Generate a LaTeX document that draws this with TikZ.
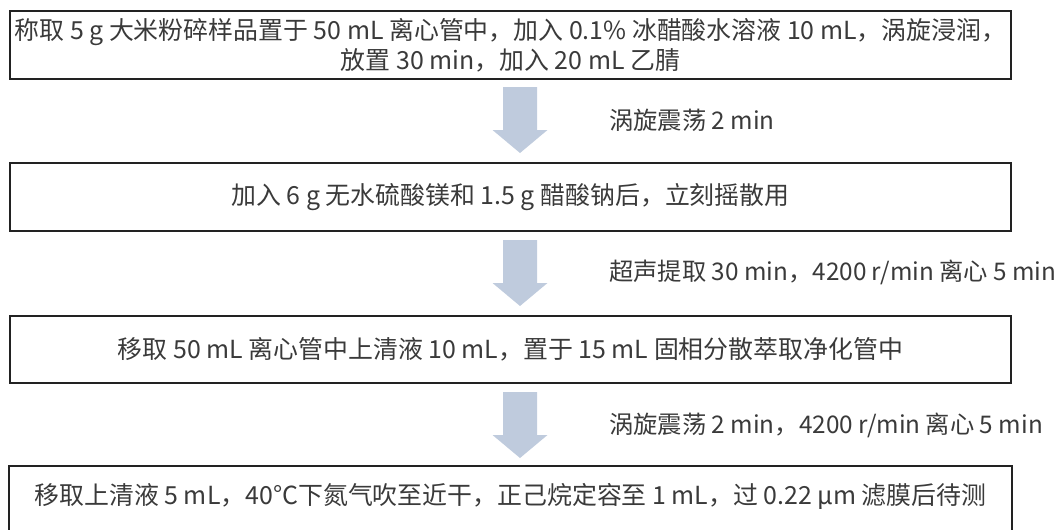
\documentclass[tikz,border=0pt]{standalone}
\usepackage{fontspec}
\setmainfont{Noto Sans CJK SC}
\definecolor{txt}{HTML}{3A3A3A}
\definecolor{arr}{HTML}{BFCBDD}
\definecolor{edge}{HTML}{222222}
\begin{document}
\begin{tikzpicture}[x=1pt,y=-1pt,
  box/.style={draw=edge,line width=2pt,minimum width=1001pt,anchor=north west,inner sep=0pt,text=txt,font=\fontsize{24.9pt}{30pt}\selectfont,align=center},
  lab/.style={anchor=west,inner sep=0pt,text=txt,font=\fontsize{24.3pt}{28pt}\selectfont},
  blockarrow/.style={fill=arr,draw=none}]
\useasboundingbox (0,0) rectangle (1058,530);
\clip (0,0) rectangle (1058,530);
\node[box,minimum height=68pt] (b1) at (9,10) {称取 5 g 大米粉碎样品置于 50 mL 离心管中，加入 0.1\% 冰醋酸水溶液 10 mL，涡旋浸润，\\放置 30 min，加入 20 mL 乙腈};
\node[box,minimum height=68pt] (b2) at (9,162) {加入 6 g 无水硫酸镁和 1.5 g 醋酸钠后，立刻摇散用};
\node[box,minimum height=67pt] (b3) at (9,315) {移取 50 mL 离心管中上清液 10 mL，置于 15 mL 固相分散萃取净化管中};
\node[box,draw=none,minimum height=58pt] (b4) at (9,466) {移取上清液 5 mL，40°C下氮气吹至近干，正己烷定容至 1 mL，过 0.22 μm 滤膜后待测};
\draw[draw=edge,line width=2pt] (b4.north west) rectangle ([yshift=-20pt]b4.south east);
\foreach \t/\n in {87/a1,240/a2,392/a3}{
  \coordinate (\n) at (520,\t);
  \fill[blockarrow] (\n) ++(-17,0) -- ++(34,0) -- ++(0,43) -- ++(10.5,0) -- ++(-27.5,23) -- ++(-27.5,-23) -- ++(10.5,0) -- cycle;
}
\node[lab] (l1) at (609,120) {涡旋震荡 2 min};
\node[lab] (l2) at (609,272) {超声提取 30 min，4200 r/min 离心 5 min};
\node[lab] (l3) at (609,425) {涡旋震荡 2 min，4200 r/min 离心 5 min};
\end{tikzpicture}
\end{document}
